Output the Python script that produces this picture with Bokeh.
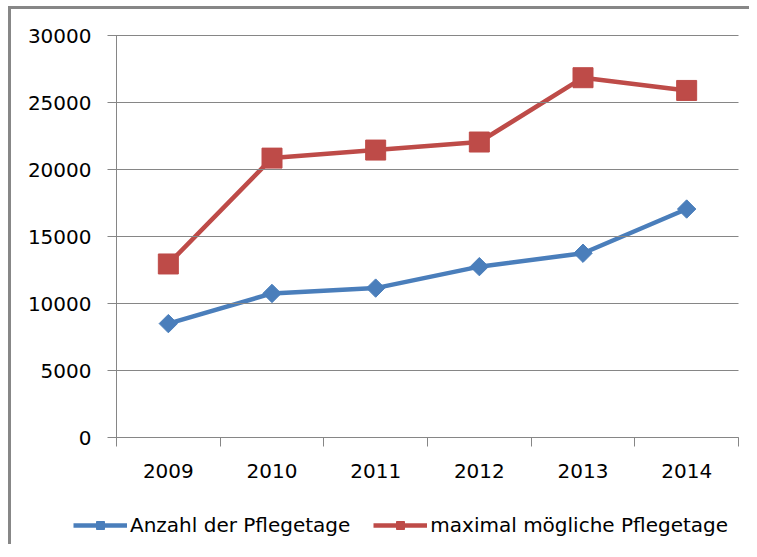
from bokeh.plotting import figure
from bokeh.models import Range1d, FixedTicker, Legend, LegendItem, ColumnDataSource
from bokeh.embed import file_html
from bokeh.resources import INLINE
import math

years = ["2009", "2010", "2011", "2012", "2013", "2014"]
anzahl = [8500, 10750, 11150, 12750, 13750, 17050]
maximal = [12950, 20850, 21450, 22050, 26850, 25900]
y_ticks = [0, 5000, 10000, 15000, 20000, 25000, 30000]
series_names = ["Anzahl der Pflegetage", "maximal mögliche Pflegetage"]

BLUE = "#4A7EBB"
RED = "#BE4B48"
GRID = "#868686"
FONT = "DejaVu Sans"

# layout (canvas pixels): the frame fills the whole canvas, the plot area sits inside it
CW, CH = 738, 535
PL, PR, PT, PB = 105, 727, 26, 428   # plot-area edges on the canvas
n = len(years)
ymin, ymax = y_ticks[0], y_ticks[-1]
ux = (PR - PL) / n
uy = (PB - PT) / (ymax - ymin)
x_range = Range1d(-PL / ux, n + (CW - PR) / ux)
y_range = Range1d(ymin - (CH - PB) / uy, ymax + PT / uy)

xs = [i + 0.5 for i in range(n)]
src = ColumnDataSource(dict(x=xs, a=anzahl, m=maximal))

p = figure(frame_width=CW, frame_height=CH, output_backend="svg", toolbar_location=None,
           x_range=x_range, y_range=y_range, min_border=0,
           styles={"border-left": "3px solid #878787", "border-top": "3px solid #878787",
                   "margin-left": "8px", "margin-top": "6px"})
p.outline_line_color = None
p.background_fill_color = "white"
p.border_fill_color = "white"
p.xgrid.grid_line_color = None
p.ygrid.grid_line_color = None

# x axis: labels at category centres, tick marks at category boundaries
xa = p.xaxis[0]
xa.fixed_location = ymin
xa.bounds = (0, n)
xa.ticker = FixedTicker(ticks=xs, minor_ticks=list(range(n + 1)))
xa.major_label_overrides = {x: y for x, y in zip(xs, years)}
xa.major_tick_line_color = None
xa.major_tick_out = 0
xa.major_tick_in = 0
xa.minor_tick_line_color = GRID
xa.minor_tick_out = 9
xa.minor_tick_in = 0
xa.axis_line_color = GRID
xa.major_label_text_font = FONT
xa.major_label_text_font_size = "20px"
xa.major_label_text_color = "#000000"
xa.major_label_standoff = 17

# y axis: inward ticks across the plot area act as the horizontal gridlines
ya = p.yaxis[0]
ya.fixed_location = 0
ya.bounds = (ymin, ymax)
ya.ticker = FixedTicker(ticks=y_ticks)
ya.minor_tick_line_color = None
ya.major_tick_line_color = GRID
ya.major_tick_out = 9
ya.major_tick_in = PR - PL
ya.axis_line_color = GRID
ya.major_label_text_font = FONT
ya.major_label_text_font_size = "20px"
ya.major_label_text_color = "#000000"
ya.major_label_standoff = 16

l1 = p.line("x", "a", source=src, line_color=BLUE, line_width=4.5)
s1 = p.scatter("x", "a", source=src, marker="square", angle=math.pi / 4, size=13,
               fill_color=BLUE, line_color=BLUE)
l2 = p.line("x", "m", source=src, line_color=RED, line_width=4.5)
s2 = p.scatter("x", "m", source=src, marker="square", size=20,
               fill_color=RED, line_color=RED)

legend = Legend(items=[LegendItem(label=series_names[0], renderers=[l1, s1]),
                       LegendItem(label=series_names[1], renderers=[l2, s2])],
                orientation="horizontal", location=(62, 7))
legend.label_text_font = FONT
legend.label_text_font_size = "20px"
legend.label_text_color = "#000000"
legend.glyph_width = 54
legend.glyph_height = 20
legend.label_standoff = 3
legend.spacing = 23
legend.padding = 0
legend.margin = 0
legend.border_line_color = None
legend.background_fill_alpha = 0
p.add_layout(legend, "center")

open("out.html", "w").write(file_html(p, INLINE))
